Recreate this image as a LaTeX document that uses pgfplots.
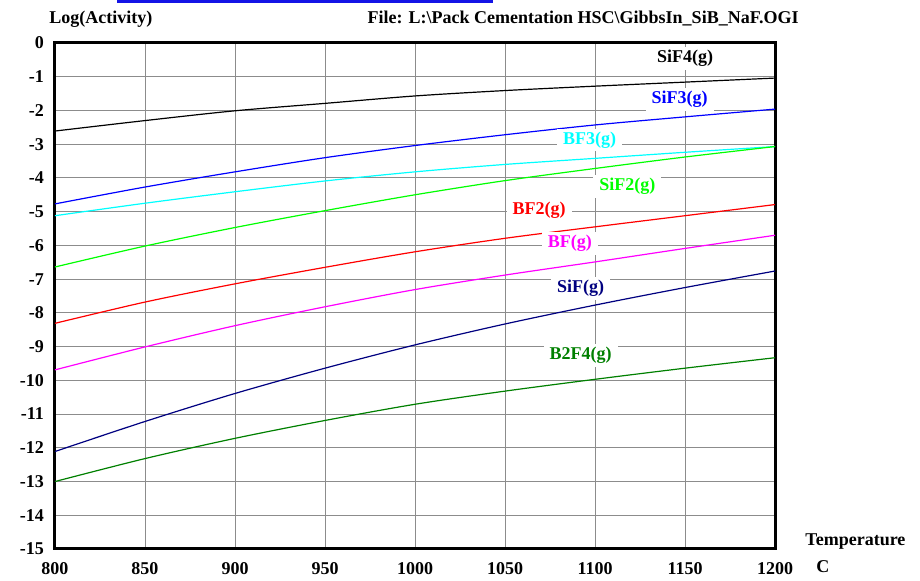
\documentclass[border=0pt]{standalone}
\usepackage{pgfplots}
\pgfplotsset{compat=1.18}
\usepackage{fontspec}
\setmainfont{Liberation Serif}

\definecolor{sifnavy}{RGB}{0,0,128}
\definecolor{darkgreen}{RGB}{0,128,0}
\definecolor{purecyan}{RGB}{0,255,255}
\definecolor{puremagenta}{RGB}{255,0,255}
\definecolor{puregreen}{RGB}{0,255,0}
\definecolor{pureblue}{RGB}{0,0,255}
\definecolor{gridgray}{RGB}{140,140,140}
\definecolor{barblue}{RGB}{20,20,230}

\begin{document}
\begin{tikzpicture}[font=\bfseries\fontsize{9}{10}\selectfont]
% page frame
\path (0,0) rectangle (460pt,288pt);
% strip along the top edge
\fill[barblue] (58.5pt,286.6pt) rectangle (246.5pt,288pt);
\begin{axis}[
  at={(27.5pt,13.5pt)}, anchor=south west,
  scale only axis, width=360pt, height=253pt,
  xmin=800, xmax=1200, ymin=-15, ymax=0,
  xtick={800,850,...,1200}, ytick={-15,-14,...,0},
  grid=major, major grid style={gridgray, line width=0.5pt},
  axis line style={line width=1.5pt},
  tick style={draw=none},
  /pgf/number format/assume math mode=true,
  /pgf/number format/set thousands separator={},
  ticklabel style={font=\bfseries\fontsize{9}{10}\selectfont},
  xticklabel style={yshift=-3pt},
  yticklabel style={xshift=-2pt},
  every axis plot/.append style={line width=0.6pt, smooth},
  clip=false,
]
\addplot[black] coordinates {(800,-2.61) (850,-2.30) (900,-2.01) (950,-1.79) (1000,-1.57) (1050,-1.41) (1100,-1.28) (1150,-1.16) (1200,-1.04)};
\addplot[pureblue] coordinates {(800,-4.77) (850,-4.27) (900,-3.82) (950,-3.40) (1000,-3.04) (1050,-2.72) (1100,-2.43) (1150,-2.19) (1200,-1.96)};
\addplot[purecyan] coordinates {(800,-5.12) (850,-4.75) (900,-4.41) (950,-4.09) (1000,-3.82) (1050,-3.60) (1100,-3.42) (1150,-3.24) (1200,-3.07)};
\addplot[puregreen] coordinates {(800,-6.64) (850,-6.02) (900,-5.47) (950,-4.97) (1000,-4.50) (1050,-4.08) (1100,-3.72) (1150,-3.38) (1200,-3.07)};
\addplot[red] coordinates {(800,-8.31) (850,-7.68) (900,-7.14) (950,-6.65) (1000,-6.19) (1050,-5.79) (1100,-5.45) (1150,-5.12) (1200,-4.79)};
\addplot[puremagenta] coordinates {(800,-9.69) (850,-9.01) (900,-8.38) (950,-7.82) (1000,-7.31) (1050,-6.88) (1100,-6.49) (1150,-6.09) (1200,-5.70)};
\addplot[sifnavy] coordinates {(800,-12.11) (850,-11.22) (900,-10.39) (950,-9.64) (1000,-8.95) (1050,-8.33) (1100,-7.77) (1150,-7.25) (1200,-6.76)};
\addplot[darkgreen] coordinates {(800,-13.00) (850,-12.32) (900,-11.72) (950,-11.19) (1000,-10.71) (1050,-10.32) (1100,-9.97) (1150,-9.64) (1200,-9.33)};

% species labels
\tikzset{spec/.style={fill=white, inner xsep=3pt, inner ysep=1.5pt}}
\node[spec, text=black]       at (axis cs:1150,-0.46) {SiF4(g)};
\node[spec, text=pureblue]    at (axis cs:1147,-1.68) {SiF3(g)};
\node[spec, text=purecyan]    at (axis cs:1097,-2.87) {BF3(g)};
\node[spec, text=puregreen]   at (axis cs:1118,-4.26) {SiF2(g)};
\node[spec, text=red]         at (axis cs:1069,-4.97) {BF2(g)};
\node[spec, text=puremagenta] at (axis cs:1086,-5.95) {BF(g)};
\node[spec, text=sifnavy]     at (axis cs:1092,-7.28) {SiF(g)};
\node[spec, text=darkgreen]   at (axis cs:1092,-9.27) {B2F4(g)};
\end{axis}

% headings and axis names
\node[anchor=base west, inner sep=0pt] at (24.5pt,276pt) {Log(Activity)};
\node[anchor=base east, inner sep=0pt] at (399.5pt,276pt) {File: L:\textbackslash Pack Cementation HSC\textbackslash GibbsIn\_SiB\_NaF.OGI};
\node[anchor=base west, inner sep=0pt] at (402.5pt,15pt) {Temperature};
\node[anchor=base west, inner sep=0pt] at (408pt,1.5pt) {C};
\end{tikzpicture}
\end{document}
